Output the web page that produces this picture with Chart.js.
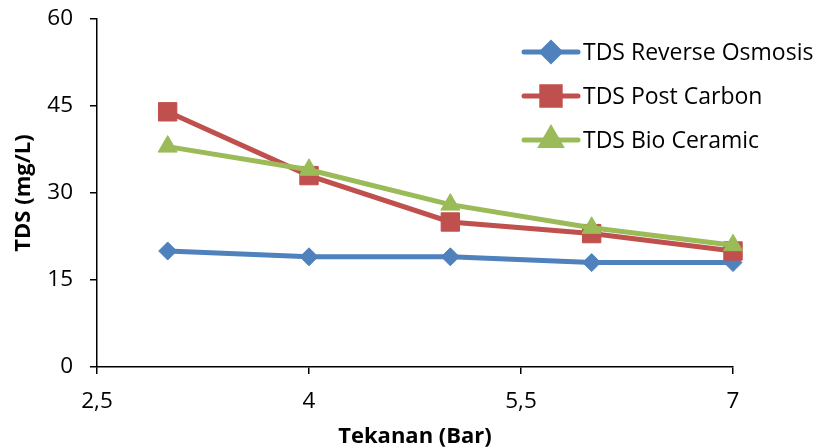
<!DOCTYPE html>
<html>
<head>
<meta charset="utf-8">
<script src="https://cdn.jsdelivr.net/npm/chart.js@4"></script>
<style>
  html, body { margin: 0; padding: 0; background: #fff; }
  #wrap { width: 814px; height: 448px; }
</style>
</head>
<body>
<div id="wrap"><canvas id="tdsChart" width="814" height="448"></canvas></div>
<script>
// Pressure (Bar) and TDS readings (mg/L)
const tekanan = [3, 4, 5, 6, 7];
const tdsReverseOsmosis = [20, 19, 19, 18, 18];
const tdsPostCarbon = [44, 33, 25, 23, 20];
const tdsBioCeramic = [38, 34, 28, 24, 21];
const seriesLabels = ['TDS Reverse Osmosis', 'TDS Post Carbon', 'TDS Bio Ceramic'];

const FONT = "'Open Sans', sans-serif";

function toPoints(ys) {
    return tekanan.map((x, i) => ({ x: x, y: ys[i] }));
}

// Legend drawn inside the plot area, on the right
const insideLegend = {
    id: 'insideLegend',
    afterDraw(chart) {
        const ctx = chart.ctx;
        const x0 = 524, x1 = 578, textX = 583;
        let y = 52;
        chart.data.datasets.forEach(ds => {
            ctx.save();
            ctx.strokeStyle = ds.borderColor;
            ctx.lineWidth = ds.borderWidth;
            ctx.lineCap = 'round';
            ctx.beginPath();
            ctx.moveTo(x0, y);
            ctx.lineTo(x1, y);
            ctx.stroke();
            ctx.fillStyle = ds.pointBackgroundColor;
            ctx.strokeStyle = ds.pointBorderColor;
            Chart.helpers.drawPoint(ctx, {
                pointStyle: ds.pointStyle,
                radius: ds.pointRadius,
                rotation: 0,
                borderWidth: 1
            }, (x0 + x1) / 2, y);
            ctx.fillStyle = '#000';
            ctx.font = '23px ' + FONT;
            ctx.textBaseline = 'middle';
            ctx.textAlign = 'left';
            ctx.fillText(ds.label, textX, y + 1);
            ctx.restore();
            y += 44;
        });
    }
};

function series(label, ys, color, style, radius, order) {
    return {
        label: label,
        data: toPoints(ys),
        borderColor: color,
        backgroundColor: color,
        borderWidth: 5,
        pointStyle: style,
        pointRadius: radius,
        pointHoverRadius: radius,
        pointBackgroundColor: color,
        pointBorderColor: color,
        pointBorderWidth: 1,
        tension: 0,
        fill: false,
        clip: false,
        order: order
    };
}

const ctx = document.getElementById('tdsChart').getContext('2d');

new Chart(ctx, {
    type: 'line',
    data: {
        datasets: [
            series(seriesLabels[0], tdsReverseOsmosis, '#4F81BD', 'rectRot', 9, 2),
            series(seriesLabels[1], tdsPostCarbon, '#C0504D', 'rect', 13, 1),
            series(seriesLabels[2], tdsBioCeramic, '#9BBB59', 'triangle', 11, 0)
        ]
    },
    options: {
        responsive: false,
        animation: false,
        layout: { padding: { top: 19, right: 81, left: 0, bottom: 0 } },
        plugins: {
            legend: { display: false },
            tooltip: { enabled: false }
        },
        scales: {
            x: {
                type: 'linear',
                min: 2.5,
                max: 7,
                ticks: {
                    stepSize: 1.5,
                    color: '#000',
                    font: { family: FONT, size: 22.5 },
                    padding: 14,
                    callback: v => String(v).replace('.', ',')
                },
                grid: { drawOnChartArea: false, drawTicks: true, tickLength: 7, color: '#000', lineWidth: 1.5 },
                border: { display: true, color: '#000', width: 1.5 },
                title: {
                    display: true,
                    text: 'Tekanan (Bar)',
                    color: '#000',
                    font: { family: FONT, size: 22, weight: 'bold' },
                    padding: { top: 0, bottom: -2 }
                },
                afterFit(scale) { scale.height = 81; }
            },
            y: {
                min: 0,
                max: 60,
                ticks: {
                    stepSize: 15,
                    color: '#000',
                    font: { family: FONT, size: 22.5 },
                    padding: 17
                },
                grid: { drawOnChartArea: false, drawTicks: true, tickLength: 7, color: '#000', lineWidth: 1.5 },
                border: { display: true, color: '#000', width: 1.5 },
                title: {
                    display: true,
                    text: 'TDS (mg/L)',
                    color: '#000',
                    font: { family: FONT, size: 22, weight: 'bold' },
                    padding: { top: 11, bottom: 0 }
                },
                afterFit(scale) {
                    scale.width = 97;
                    scale.paddingTop = 0;
                    scale.paddingBottom = 0;
                }
            }
        }
    },
    plugins: [insideLegend]
});
</script>
</body>
</html>
